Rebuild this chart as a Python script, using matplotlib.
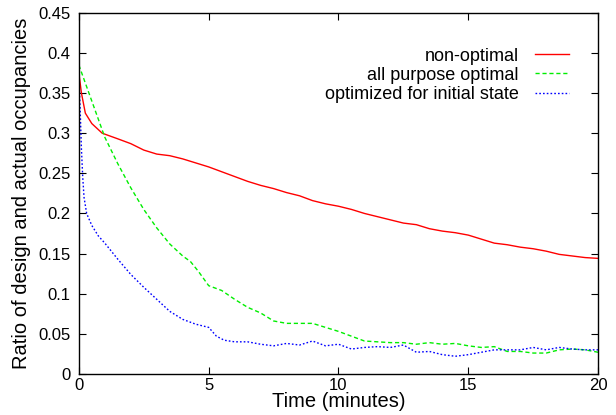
import matplotlib
matplotlib.use('Agg')
import matplotlib.pyplot as plt
from matplotlib.ticker import FuncFormatter

plt.rcParams['font.family'] = ['Liberation Sans', 'DejaVu Sans']
plt.rcParams['font.size'] = 12

# Data
t_red = [0, 0.1, 0.25, 0.5, 0.9, 1.5, 2, 2.5, 3, 3.5, 4, 4.5, 5, 5.5, 6, 6.5, 7, 7.5, 8, 8.5,
         9, 9.5, 10, 10.5, 11, 11.5, 12, 12.5, 13, 13.5, 14, 14.5, 15, 15.5, 16, 16.5, 17,
         17.5, 18, 18.5, 19, 19.5, 20]
non_optimal = [0.375, 0.35, 0.325, 0.312, 0.300, 0.293, 0.287, 0.279, 0.274, 0.272, 0.268,
               0.263, 0.258, 0.252, 0.246, 0.240, 0.235, 0.231, 0.226, 0.222, 0.216, 0.212,
               0.209, 0.205, 0.200, 0.196, 0.192, 0.188, 0.186, 0.181, 0.178, 0.176, 0.173,
               0.168, 0.163, 0.161, 0.158, 0.156, 0.153, 0.149, 0.147, 0.145, 0.144]

t_green = [0, 0.5, 1, 1.5, 2, 2.5, 3, 3.5, 4, 4.3, 4.6, 5, 5.5, 6, 6.5, 7, 7.5, 8, 8.5, 9,
           9.5, 10, 10.5, 11, 11.5, 12, 12.5, 13, 13.5, 14, 14.5, 15, 15.5, 16, 16.5, 17,
           17.5, 18, 18.5, 19, 19.5, 20]
all_purpose = [0.385, 0.34, 0.295, 0.262, 0.232, 0.205, 0.182, 0.162, 0.147, 0.140, 0.128,
               0.110, 0.104, 0.093, 0.083, 0.076, 0.066, 0.063, 0.063, 0.063, 0.058, 0.053,
               0.047, 0.041, 0.040, 0.039, 0.039, 0.037, 0.039, 0.037, 0.038, 0.035, 0.033,
               0.034, 0.028, 0.028, 0.026, 0.026, 0.030, 0.031, 0.030, 0.027]

t_blue = [0, 0.05, 0.1, 0.15, 0.2, 0.3, 0.5, 0.75, 1, 1.5, 2, 2.5, 3, 3.5, 4, 4.5, 5, 5.3,
          5.6, 6, 6.5, 7, 7.5, 8, 8.5, 9, 9.5, 10, 10.5, 11, 11.5, 12, 12.5, 13, 13.5, 14,
          14.5, 15, 15.5, 16, 16.5, 17, 17.5, 18, 18.5, 19, 19.5, 20]
initial_state = [0.37, 0.33, 0.28, 0.245, 0.22, 0.20, 0.185, 0.172, 0.163, 0.143, 0.124,
                 0.108, 0.093, 0.078, 0.068, 0.062, 0.058, 0.047, 0.042, 0.040, 0.040, 0.037,
                 0.035, 0.038, 0.036, 0.041, 0.035, 0.037, 0.031, 0.033, 0.034, 0.033, 0.036,
                 0.027, 0.028, 0.024, 0.022, 0.024, 0.027, 0.030, 0.030, 0.030, 0.033, 0.030,
                 0.033, 0.031, 0.030, 0.030]

x_ticks = [0, 5, 10, 15, 20]
y_ticks = [0, 0.05, 0.1, 0.15, 0.2, 0.25, 0.3, 0.35, 0.4, 0.45]

fig = plt.figure(figsize=(6.16, 4.15), dpi=100)
ax = fig.add_axes([0.128, 0.099, 0.843, 0.870])

ax.plot(t_red, non_optimal, color='#ff0000', lw=1.0, label='non-optimal')
ax.plot(t_green, all_purpose, color='#00ee00', lw=1.0, dashes=(3, 2), label='all purpose optimal')
ax.plot(t_blue, initial_state, color='#0000ff', lw=1.0, dashes=(1.2, 1.5),
        label='optimized for initial state')

ax.set_xlim(0, 20)
ax.set_ylim(0, 0.45)
ax.set_xticks(x_ticks)
ax.set_yticks(y_ticks)
ax.yaxis.set_major_formatter(FuncFormatter(lambda v, p: '%g' % v))
ax.tick_params(direction='in', length=5, width=0.8, top=True, right=True, labelsize=12)
ax.tick_params(axis='y', pad=6)
ax.tick_params(axis='x', pad=3)
for s in ax.spines.values():
    s.set_linewidth(1.0)

ax.set_xlabel('Time (minutes)', fontsize=14.5, labelpad=-1)
ax.set_ylabel('Ratio of design and actual occupancies', fontsize=14.5, labelpad=5)

ax.legend(loc='upper right', bbox_to_anchor=(0.962, 0.929), frameon=False, markerfirst=False,
          fontsize=13, handlelength=1.9, handletextpad=0.9, labelspacing=0.12, borderpad=0)

plt.savefig('out.png', dpi=100)
